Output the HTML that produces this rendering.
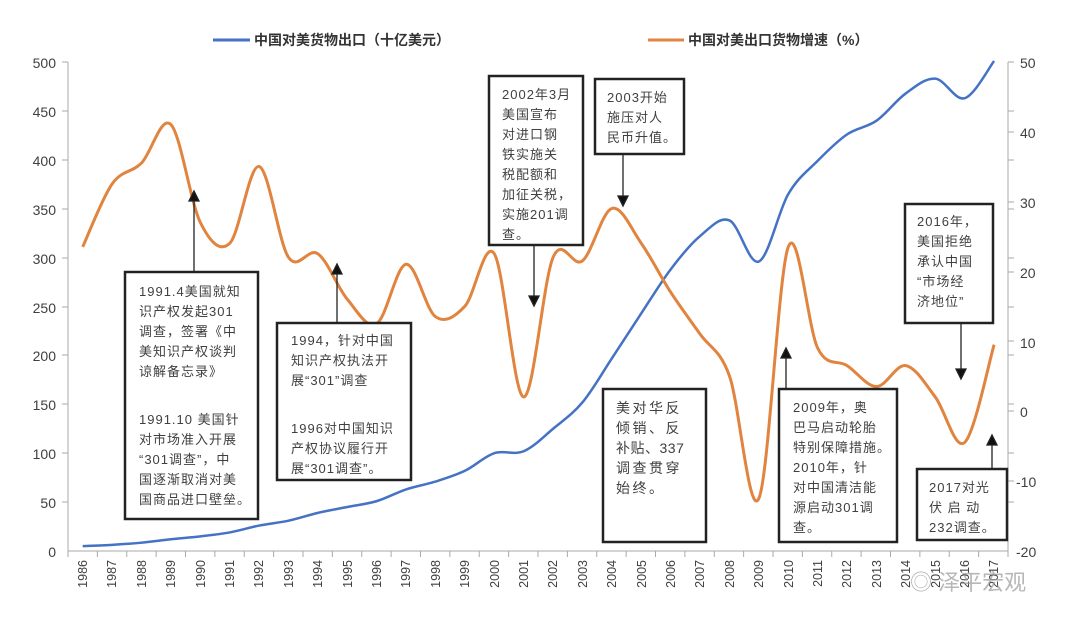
<!DOCTYPE html>
<html><head><meta charset="utf-8"><style>
body{margin:0;background:#fff;}
svg{display:block;font-family:"Liberation Sans","Noto Sans CJK SC",sans-serif;}
.ax{font-size:14px;fill:#404040;}
.yr{font-size:12.5px;fill:#404040;}
.bx{fill:#fff;stroke:#222;stroke-width:2.5;}
.t{font-size:13px;fill:#404040;letter-spacing:1px;}
.lg{font-size:14px;font-weight:bold;fill:#333;}
</style></head><body>
<svg id="s" width="1080" height="631" viewBox="0 0 1080 631">
<rect width="1080" height="631" fill="#fff"/>
<line x1="213" y1="40" x2="250" y2="40" stroke="#4472c4" stroke-width="3"/>
<text class="lg" x="254" y="45">中国对美货物出口（十亿美元）</text>
<line x1="648" y1="40" x2="684" y2="40" stroke="#e0843f" stroke-width="3"/>
<text class="lg" x="688" y="45">中国对美出口货物增速（%）</text>
<g stroke="#aaa" stroke-width="1">
<line x1="68" y1="62" x2="68" y2="551"/>
<line x1="1008" y1="62" x2="1008" y2="551"/>
<line x1="68" y1="551" x2="1008" y2="551"/>
</g>
<g id="ticks" stroke="#aaa" stroke-width="1"></g>
<g class="ax" text-anchor="end">
<text x="56" y="68">500</text><text x="56" y="117">450</text><text x="56" y="166">400</text><text x="56" y="215">350</text><text x="56" y="264">300</text><text x="56" y="313">250</text><text x="56" y="361">200</text><text x="56" y="410">150</text><text x="56" y="459">100</text><text x="56" y="508">50</text><text x="56" y="557">0</text>
</g>
<g class="ax" text-anchor="start">
<text x="1020" y="68">50</text><text x="1020" y="138">40</text><text x="1020" y="208">30</text><text x="1020" y="278">20</text><text x="1020" y="348">10</text><text x="1020" y="417">0</text><text x="1016" y="487">-10</text><text x="1016" y="557">-20</text>
</g>
<g class="yr" text-anchor="end">
<text transform="translate(87,560) rotate(-90)">1986</text>
<text transform="translate(116,560) rotate(-90)">1987</text>
<text transform="translate(146,560) rotate(-90)">1988</text>
<text transform="translate(175,560) rotate(-90)">1989</text>
<text transform="translate(205,560) rotate(-90)">1990</text>
<text transform="translate(234,560) rotate(-90)">1991</text>
<text transform="translate(263,560) rotate(-90)">1992</text>
<text transform="translate(293,560) rotate(-90)">1993</text>
<text transform="translate(322,560) rotate(-90)">1994</text>
<text transform="translate(352,560) rotate(-90)">1995</text>
<text transform="translate(381,560) rotate(-90)">1996</text>
<text transform="translate(410,560) rotate(-90)">1997</text>
<text transform="translate(440,560) rotate(-90)">1998</text>
<text transform="translate(469,560) rotate(-90)">1999</text>
<text transform="translate(499,560) rotate(-90)">2000</text>
<text transform="translate(528,560) rotate(-90)">2001</text>
<text transform="translate(557,560) rotate(-90)">2002</text>
<text transform="translate(587,560) rotate(-90)">2003</text>
<text transform="translate(616,560) rotate(-90)">2004</text>
<text transform="translate(646,560) rotate(-90)">2005</text>
<text transform="translate(675,560) rotate(-90)">2006</text>
<text transform="translate(704,560) rotate(-90)">2007</text>
<text transform="translate(734,560) rotate(-90)">2008</text>
<text transform="translate(763,560) rotate(-90)">2009</text>
<text transform="translate(793,560) rotate(-90)">2010</text>
<text transform="translate(822,560) rotate(-90)">2011</text>
<text transform="translate(851,560) rotate(-90)">2012</text>
<text transform="translate(881,560) rotate(-90)">2013</text>
<text transform="translate(910,560) rotate(-90)">2014</text>
<text transform="translate(940,560) rotate(-90)">2015</text>
<text transform="translate(969,560) rotate(-90)">2016</text>
<text transform="translate(998,560) rotate(-90)">2017</text>
</g>
<path id="blue" fill="none" stroke="#4472c4" stroke-width="2.5"/>
<path id="orange" fill="none" stroke="#e0843f" stroke-width="3"/>
<g stroke="#222" stroke-width="1.3" fill="#111">
<line x1="194" y1="272" x2="194" y2="200"/><polygon points="189,201 199,201 194,191"/>
<line x1="337" y1="323" x2="337" y2="273"/><polygon points="332,274 342,274 337,264"/>
<line x1="534" y1="245" x2="534" y2="297"/><polygon points="529,296 539,296 534,306"/>
<line x1="623" y1="154" x2="623" y2="197"/><polygon points="618,196 628,196 623,206"/>
<line x1="961" y1="323" x2="961" y2="370"/><polygon points="956,369 966,369 961,379"/>
<line x1="786" y1="389" x2="786" y2="357"/><polygon points="781,358 791,358 786,348"/>
<line x1="992" y1="469" x2="992" y2="444"/><polygon points="987,445 997,445 992,435"/>
</g>
<rect class="bx" x="125" y="272" width="133" height="247"/>
<g class="t"><text x="139" y="296">1991.4美国就知</text><text x="139" y="316">识产权发起301</text><text x="139" y="336">调查，签署《中</text><text x="139" y="356">美知识产权谈判</text><text x="139" y="376">谅解备忘录》</text>
<text x="139" y="424">1991.10 美国针</text><text x="139" y="444">对市场准入开展</text><text x="139" y="464">“301调查”，中</text><text x="139" y="484">国逐渐取消对美</text><text x="139" y="504">国商品进口壁垒。</text></g>
<rect class="bx" x="277" y="323" width="134" height="157"/>
<g class="t"><text x="291" y="345">1994，针对中国</text><text x="291" y="365">知识产权执法开</text><text x="291" y="385">展“301”调查</text>
<text x="291" y="433">1996对中国知识</text><text x="291" y="453">产权协议履行开</text><text x="291" y="473">展“301调查”。</text></g>
<rect class="bx" x="489" y="76" width="94" height="169"/>
<g class="t"><text x="502" y="99">2002年3月</text><text x="502" y="119">美国宣布</text><text x="502" y="139">对进口钢</text><text x="502" y="159">铁实施关</text><text x="502" y="179">税配额和</text><text x="502" y="199">加征关税，</text><text x="502" y="219">实施201调</text><text x="502" y="239">查。</text></g>
<rect class="bx" x="595" y="79" width="89" height="75"/>
<g class="t"><text x="607" y="102">2003开始</text><text x="607" y="122">施压对人</text><text x="607" y="142">民币升值。</text></g>
<rect class="bx" x="905" y="204" width="88" height="119"/>
<g class="t"><text x="917" y="226">2016年，</text><text x="917" y="246">美国拒绝</text><text x="917" y="266">承认中国</text><text x="917" y="286">“市场经</text><text x="917" y="306">济地位”</text></g>
<rect class="bx" x="603" y="389" width="103" height="153"/>
<g class="t" style="font-size:14px;letter-spacing:2.5px"><text x="616" y="413">美对华反</text><text x="616" y="433">倾销、反</text><text x="616" y="453" style="letter-spacing:0.5px">补贴、337</text><text x="616" y="473">调查贯穿</text><text x="616" y="493">始终。</text></g>
<rect class="bx" x="779" y="389" width="118" height="153"/>
<g class="t"><text x="793" y="412">2009年，奥</text><text x="793" y="432">巴马启动轮胎</text><text x="793" y="452">特别保障措施。</text><text x="793" y="472">2010年，针</text><text x="793" y="492">对中国清洁能</text><text x="793" y="512">源启动301调</text><text x="793" y="532">查。</text></g>
<rect class="bx" x="917" y="469" width="90" height="71"/>
<g class="t"><text x="929" y="492">2017对光</text><text x="929" y="512">伏 启 动</text><text x="929" y="532">232调查。</text></g>
<text x="910" y="590" style="font-size:22px;fill:#999;opacity:0.7">◎ 泽平宏观</text>
</svg>
<script>
var X=function(i){return 82.7+i*29.4;};
var blue=[5,6.3,8.5,12,15,19,26,31,39,45,51,63,71,82,100,102,125,152,197,243,288,322,338,296,365,399,426,440,468,483,463,505];
var org=[23.5,32.5,35.5,41,27,24,35,22,22.5,16,12.5,21,13.5,15,22.5,2,22,21.5,29,24,17,11,5,-12.5,23.5,9,6.5,3.5,6.5,2,-4.5,9.5];
function path(pts){var d="M"+pts[0][0]+","+pts[0][1];for(var i=0;i<pts.length-1;i++){var p0=pts[i-1]||pts[i],p1=pts[i],p2=pts[i+1],p3=pts[i+2]||p2;var t=0.5/3;d+=" C"+(p1[0]+(p2[0]-p0[0])*t)+","+(p1[1]+(p2[1]-p0[1])*t)+" "+(p2[0]-(p3[0]-p1[0])*t)+","+(p2[1]-(p3[1]-p1[1])*t)+" "+p2[0]+","+p2[1];}return d;}
document.getElementById("blue").setAttribute("d",path(blue.map(function(v,i){return [X(i),Math.max(551-v*0.978,61)];})));
document.getElementById("orange").setAttribute("d",path(org.map(function(v,i){return [X(i),411-v*6.986];})));
var g=document.getElementById("ticks"),h="";
for(var i=0;i<=32;i++){var x=68+i*29.375;h+='<line x1="'+x+'" y1="551" x2="'+x+'" y2="557"/>';}
[62,111,160,209,258,307,355,404,453,502].forEach(function(y){h+='<line x1="62" y1="'+y+'" x2="68" y2="'+y+'"/><line x1="1008" y1="'+y+'" x2="1014" y2="'+y+'"/>';});
[132,202,272,341,411,481].forEach(function(y){h+='<line x1="1008" y1="'+y+'" x2="1014" y2="'+y+'"/>';});
g.innerHTML=h;
</script>
</body></html>
